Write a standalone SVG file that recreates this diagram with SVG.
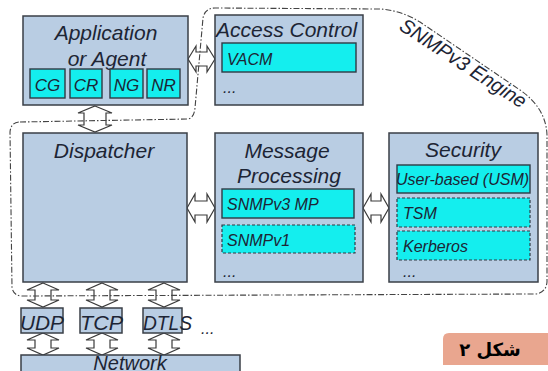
<svg xmlns="http://www.w3.org/2000/svg" width="548" height="371" viewBox="0 0 548 371">
<style>
.box{fill:#b9cde3;stroke:#3a3f47;stroke-width:1.5}
.cy{fill:#14eeee;stroke:#2f3a44;stroke-width:1.4}
.cyd{fill:#14eeee;stroke:#2f3a44;stroke-width:1.2;stroke-dasharray:3 2}
.arr{fill:#ffffff;stroke:#3a3a3a;stroke-width:1.2;stroke-linejoin:miter}
.bnd{fill:none;stroke:#444;stroke-width:1.1;stroke-dasharray:6 2 1.5 2}
.t{font-family:"Liberation Sans",Arial,sans-serif;font-style:italic;font-size:21px;fill:#1d2535}
.s{font-family:"Liberation Sans",Arial,sans-serif;font-style:italic;font-size:16px;fill:#1d2535}
.m{text-anchor:middle}
</style>
<g id="connectors">
<path class="arr" d="M188,59 L196,46 L196,52 L207,52 L207,46 L215,59 L207,72 L207,66 L196,66 L196,72 Z"/>
<path class="arr" d="M187,208 L195,194 L195,201 L207,201 L207,194 L215,208 L207,222 L207,215 L195,215 L195,222 Z"/>
<path class="arr" d="M363,208 L371,194 L371,201 L381,201 L381,194 L389,208 L381,222 L381,215 L371,215 L371,222 Z"/>
<path class="arr" d="M95,106 L112,113 L106,113 L106,125 L112,125 L95,132 L78,125 L84,125 L84,113 L78,113 Z"/>
<path class="arr" d="M43,283 L59,290 L51,290 L51,300 L59,300 L43,307 L27,300 L35,300 L35,290 L27,290 Z"/>
<path class="arr" d="M102,283 L118,290 L110,290 L110,300 L118,300 L102,307 L86,300 L94,300 L94,290 L86,290 Z"/>
<path class="arr" d="M164,283 L180,290 L172,290 L172,300 L180,300 L164,307 L148,300 L156,300 L156,290 L148,290 Z"/>
<path class="arr" d="M43,333 L59,340 L51,340 L51,348 L59,348 L43,355 L27,348 L35,348 L35,340 L27,340 Z"/>
<path class="arr" d="M102,333 L118,340 L110,340 L110,348 L118,348 L102,355 L86,348 L94,348 L94,340 L86,340 Z"/>
<path class="arr" d="M164,333 L180,340 L172,340 L172,348 L180,348 L164,355 L148,348 L156,348 L156,340 L148,340 Z"/>
</g>
<g id="app">
<rect class="box" x="23" y="16" width="165" height="89"/>
<text class="t m" x="106" y="40">Application</text>
<text class="t m" x="107" y="66">or Agent</text>
<rect class="cy" x="30" y="69" width="35" height="29"/>
<rect class="cy" x="70" y="69" width="32" height="29"/>
<rect class="cy" x="110" y="69" width="33" height="29"/>
<rect class="cy" x="147" y="69" width="33" height="29"/>
<text class="s m" x="47.5" y="91" style="font-size:17px">CG</text>
<text class="s m" x="86" y="91" style="font-size:17px">CR</text>
<text class="s m" x="126.5" y="91" style="font-size:17px">NG</text>
<text class="s m" x="163.5" y="91" style="font-size:17px">NR</text>
</g>
<g id="access">
<rect class="box" x="215" y="15" width="148" height="90"/>
<text class="t" x="216" y="37">Access Control</text>
<rect class="cy" x="222" y="43" width="134" height="29"/>
<text class="s" x="227" y="65">VACM</text>
<text class="s" x="223" y="93">...</text>
</g>
<g id="dispatcher">
<rect class="box" x="23" y="133" width="164" height="149"/>
<text class="t m" x="104" y="158">Dispatcher</text>
</g>
<g id="mp">
<rect class="box" x="215" y="133" width="148" height="149"/>
<text class="t m" x="287" y="158">Message</text>
<text class="t m" x="289" y="183">Processing</text>
<rect class="cy" x="222" y="189" width="132" height="29"/>
<text class="s" x="227" y="210">SNMPv3 MP</text>
<rect class="cyd" x="222" y="225" width="133" height="28"/>
<text class="s" x="227" y="246">SNMPv1</text>
<text class="s" x="223" y="277">...</text>
</g>
<g id="security">
<rect class="box" x="389" y="133" width="149" height="149"/>
<text class="t m" x="463" y="157">Security</text>
<rect class="cy" x="397" y="165" width="133" height="28"/>
<text class="s" x="396" y="185">User-based (USM)</text>
<rect class="cyd" x="397" y="198" width="133" height="29"/>
<text class="s" x="403" y="219">TSM</text>
<rect class="cyd" x="397" y="231" width="133" height="29"/>
<text class="s" x="403" y="252">Kerberos</text>
<text class="s" x="403" y="277">...</text>
</g>
<g id="udp">
<rect class="box" x="21" y="308" width="42" height="25"/>
<text class="t" x="20" y="330" textLength="44" lengthAdjust="spacingAndGlyphs">UDP</text>
</g>
<g id="tcp">
<rect class="box" x="80" y="308" width="42" height="25"/>
<text class="t" x="80" y="330" textLength="43" lengthAdjust="spacingAndGlyphs">TCP</text>
</g>
<g id="dtls">
<rect class="box" x="143" y="308" width="39" height="25"/>
<text class="t" x="143" y="330" textLength="49" lengthAdjust="spacingAndGlyphs">DTLS</text>
</g>
<text class="s" x="201" y="334">...</text>
<g id="network">
<rect class="box" x="21" y="355" width="219" height="25"/>
<text class="t m" x="130" y="370" style="font-size:20px">Network</text>
</g>
<g id="engine">
<path class="bnd" d="M20,122 L188,119 Q194,118 195,108 L203,18 Q205,8 215,8 L380,9 Q400,10 420,22 L520,90 Q546,108 547,135 L547,282 Q546,293 535,294 L22,296 Q14,296 12,288 L10,132 Q11,122 20,122 Z"/>
<text class="s" style="font-size:20px" transform="translate(398,29) rotate(33)">SNMPv3 Engine</text>
</g>
<g id="caption">
<path d="M449,333 L548,333 L548,365 L443,365 L443,339 Q443,333 449,333 Z" fill="#e9a68f"/>
<text x="490" y="356" text-anchor="middle" style="font-family:'DejaVu Sans',sans-serif;font-weight:bold;font-size:18px;fill:#000">شکل ۲</text>
</g>
</svg>
